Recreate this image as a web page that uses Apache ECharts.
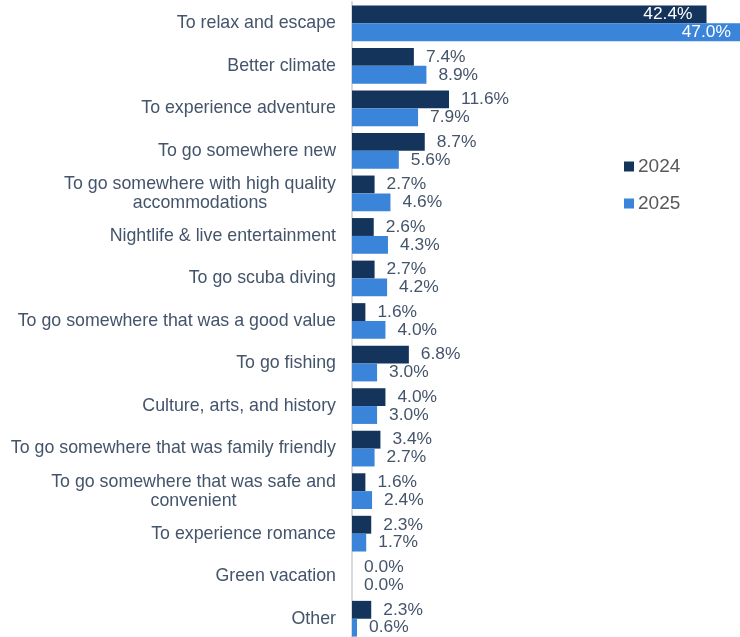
<!DOCTYPE html>
<html><head><meta charset="utf-8">
<script src="https://cdn.jsdelivr.net/npm/echarts@6/dist/echarts.min.js"></script>
<style>html,body{margin:0;padding:0;background:#fff;overflow:hidden}#c{width:745px;height:640px}</style>
</head><body><div id="c"></div>
<script>
const categories = [
  "To relax and escape",
  "Better climate",
  "To experience adventure",
  "To go somewhere new",
  "To go somewhere with high quality\naccommodations",
  "Nightlife & live entertainment",
  "To go scuba diving",
  "To go somewhere that was a good value",
  "To go fishing",
  "Culture, arts, and history",
  "To go somewhere that was family friendly",
  "To go somewhere that was safe and\nconvenient",
  "To experience romance",
  "Green vacation",
  "Other"
];
const values2024 = [42.4, 7.4, 11.6, 8.7, 2.7, 2.6, 2.7, 1.6, 6.8, 4.0, 3.4, 1.6, 2.3, 0.0, 2.3];
const values2025 = [47.0, 8.9, 7.9, 5.6, 4.6, 4.3, 4.2, 4.0, 3.0, 3.0, 2.7, 2.4, 1.7, 0.0, 0.6];
const seriesNames = ["2024", "2025"];

const insideIdx = 0;
function mk(vals) {
  return vals.map((v, i) => i === insideIdx
    ? { value: v, label: { position: 'insideRight', color: '#ffffff', distance: 14 } }
    : v);
}
const labelColor = '#44546a';
const FF = 'Liberation Sans, Arial, sans-serif';
const AXFS = 17.8;
const ctx = document.createElement('canvas').getContext('2d');
ctx.font = AXFS + 'px ' + FF;
function blockWidth(v) {
  return Math.ceil(Math.max(...v.split('\n').map(l => ctx.measureText(l).width)));
}
function fmtLabel(v) {
  const lines = v.split('\n');
  if (lines.length === 1) return v;
  const w = blockWidth(v);
  return lines.map(l => '{c' + w + '|' + l + '}').join('\n');
}
const rich = {};
categories.forEach(v => {
  if (v.indexOf('\n') >= 0) {
    const w = blockWidth(v);
    rich['c' + w] = { width: w, align: 'center', color: labelColor, fontSize: AXFS, fontFamily: FF, lineHeight: 19 };
  }
});
const chart = echarts.init(document.getElementById('c'));
chart.setOption({
  animation: false,
  legend: {
    orient: 'vertical',
    left: 619, top: 152,
    itemWidth: 10, itemHeight: 10, itemGap: 18,
    icon: 'rect',
    textStyle: { color: '#595959', fontSize: 19, fontFamily: FF, padding: [0,0,0,-1] },
    data: seriesNames
  },
  grid: { left: 352, right: 0, top: 2, bottom: 0, containLabel: false },
  xAxis: { type: 'value', min: 0, max: 47, show: false },
  yAxis: {
    type: 'category', inverse: true, data: categories,
    axisLine: { show: true, lineStyle: { color: '#d9d9d9', width: 2 } },
    axisTick: { show: false },
    axisLabel: { color: labelColor, fontSize: AXFS, margin: 16, lineHeight: 19, fontFamily: FF, formatter: fmtLabel, rich: rich }
  },
  series: [
    { name: seriesNames[0], type: 'bar', data: mk(values2024), barGap: '0%', barCategoryGap: '16%',
      itemStyle: { color: '#15345b' },
      label: { show: true, position: 'right', distance: 12, color: labelColor, fontSize: 17.4, fontFamily: FF, formatter: p => p.value.toFixed(1) + '%' } },
    { name: seriesNames[1], type: 'bar', data: mk(values2025), barGap: '0%', barCategoryGap: '16%',
      itemStyle: { color: '#3a84d9' },
      label: { show: true, position: 'right', distance: 12, color: labelColor, fontSize: 17.4, fontFamily: FF, formatter: p => p.value.toFixed(1) + '%' } }
  ]
});
</script></body></html>
